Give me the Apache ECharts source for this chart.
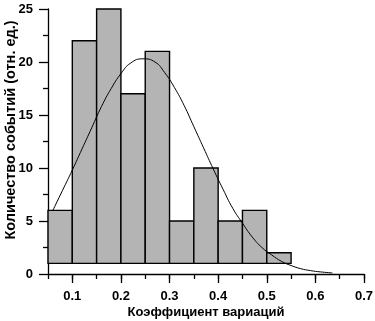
<!DOCTYPE html>
<html>
<head>
<meta charset="utf-8">
<script src="https://cdn.jsdelivr.net/npm/echarts@6/dist/echarts.min.js"></script>
<style>
  html, body { margin: 0; padding: 0; background: #fff; }
  #chart { width: 375px; height: 321px; }
</style>
</head>
<body>
<div id="chart"></div>
<script>
// histogram bins (left edge, right edge) and counts
const binStart = [0.05, 0.10, 0.15, 0.20, 0.25, 0.30, 0.35, 0.40, 0.45, 0.50]
const binEnd = [0.10, 0.15, 0.20, 0.25, 0.30, 0.35, 0.40, 0.45, 0.50, 0.55]
const counts = [6, 22, 25, 17, 21, 5, 10, 5, 6, 2]
const barBase = 1

// fitted curve
const curveX = [0.06, 0.08, 0.10, 0.12, 0.14, 0.16, 0.18, 0.20, 0.22, 0.245, 0.27, 0.29, 0.31, 0.33, 0.35, 0.37, 0.39, 0.41, 0.43, 0.45, 0.47, 0.49, 0.51, 0.53, 0.55, 0.57, 0.59, 0.61, 0.635]
const curveY = [6.0, 7.9, 9.8, 11.8, 13.8, 15.8, 17.5, 18.9, 19.9, 20.3, 20.0, 19.0, 17.6, 15.9, 13.9, 11.9, 9.9, 8.0, 6.2, 4.8, 3.5, 2.5, 1.8, 1.2, 0.8, 0.5, 0.32, 0.2, 0.1]

const xMajorTicks = [0.1, 0.2, 0.3, 0.4, 0.5, 0.6, 0.7]

const chart = echarts.init(document.getElementById('chart'))

const font = 'Liberation Sans, Arial, sans-serif'

chart.setOption({
  animation: false,
  grid: {
    left: 48,
    right: 11,
    top: 9,
    bottom: 47,
    containLabel: false,
    outerBoundsMode: 'none'
  },
  xAxis: [
    {
      type: 'value',
      min: 0.05,
      max: 0.7,
      interval: 0.05,
      name: 'Коэффициент вариаций',
      nameLocation: 'middle',
      nameGap: 32,
      nameMoveOverlap: false,
      nameTextStyle: {
        fontFamily: font,
        fontWeight: 'bold',
        fontSize: 13,
        color: '#000'
      },
      axisLine: { lineStyle: { color: '#000', width: 1.3 } },
      axisTick: { length: 5, lineStyle: { color: '#000', width: 1.3 } },
      axisLabel: {
        margin: 16,
        fontFamily: font,
        fontWeight: 'bold',
        fontSize: 13,
        color: '#000',
        formatter: (v) => {
          const r = Math.round(v * 100)
          return r % 10 === 0 ? (r / 100).toFixed(1) : ''
        }
      },
      splitLine: { show: false }
    },
    {
      type: 'value',
      min: 0.05,
      max: 0.7,
      position: 'bottom',
      axisLine: { show: false },
      axisTick: {
        length: 9,
        customValues: xMajorTicks,
        lineStyle: { color: '#000', width: 1.3 }
      },
      axisLabel: { show: false },
      splitLine: { show: false }
    }
  ],
  yAxis: {
    type: 'value',
    min: 0,
    max: 25,
    interval: 5,
    name: 'Количество событий (отн. ед.)',
    nameLocation: 'middle',
    nameGap: 30,
    nameMoveOverlap: false,
    nameTextStyle: {
      fontFamily: font,
      fontWeight: 'bold',
      fontSize: 14.5,
      color: '#000',
      padding: [0, 0, 0, 23]
    },
    axisLine: { show: true, lineStyle: { color: '#000', width: 1.3 } },
    axisTick: { show: true, length: 9, lineStyle: { color: '#000', width: 1.3 } },
    minorTick: { show: true, splitNumber: 2, length: 5, lineStyle: { color: '#000', width: 1.3 } },
    axisLabel: {
      margin: 15,
      fontFamily: font,
      fontWeight: 'bold',
      fontSize: 13,
      color: '#000'
    },
    splitLine: { show: false }
  },
  series: [
    {
      type: 'custom',
      xAxisIndex: 0,
      data: counts.map((c, i) => [binStart[i], binEnd[i], c]),
      renderItem: (params, api) => {
        const p0 = api.coord([api.value(0), api.value(2)])
        const p1 = api.coord([api.value(1), barBase])
        return {
          type: 'rect',
          shape: { x: p0[0], y: p0[1], width: p1[0] - p0[0], height: p1[1] - p0[1] },
          style: { fill: '#b4b4b4', stroke: '#000', lineWidth: 1.4 }
        }
      },
      z: 2
    },
    {
      type: 'line',
      xAxisIndex: 0,
      data: curveX.map((x, i) => [x, curveY[i]]),
      smooth: true,
      showSymbol: false,
      lineStyle: { color: '#000', width: 1 },
      z: 3
    }
  ]
})
</script>
</body>
</html>
